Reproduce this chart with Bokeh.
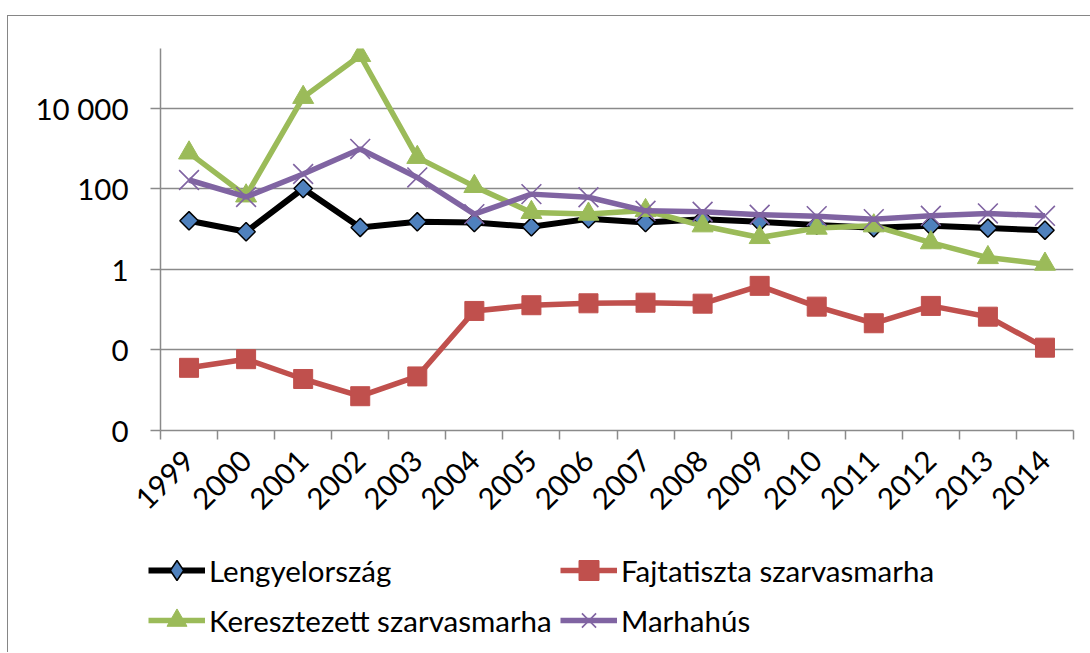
import math
from bokeh.plotting import figure
from bokeh.layouts import column
from bokeh.models import Range1d, FixedTicker, Legend, LegendItem, InlineStyleSheet
from bokeh.embed import file_html
from bokeh.resources import INLINE

years = [str(y) for y in range(1999, 2015)]
lengyel = [16.1, 8.6, 102, 11, 15.2, 14.6, 11.4, 18, 14.6, 17.7, 15.2, 12.7, 10.8, 12.1, 10.6, 9.4]
fajta = [0.0036, 0.0059, 0.0019, 0.00071, 0.0022, 0.093, 0.129, 0.144, 0.149, 0.141,
         0.39, 0.119, 0.046, 0.124, 0.067, 0.0114]
kereszt = [780, 67, 18700, 205000, 605, 115, 26, 23.6, 29, 12.1, 6.2, 10.6, 12.1, 4.6, 1.97, 1.35]
marha = [166, 63, 234, 980, 192, 23.6, 74, 62, 28.5, 27, 22.7, 21, 17.7, 21.4, 24.5, 21.4]
series_names = ["Lengyelország", "Fajtatiszta szarvasmarha", "Keresztezett szarvasmarha", "Marhahús"]
y_ticks = [0.0001, 0.01, 1, 100, 10000]
y_tick_labels = ["0", "0", "1", "100", "10 000"]

FONT = "Lato"
FS = "29.5px"
GRAY = "#8a8a8a"

xs = list(range(len(years)))
series_values = [lengyel, fajta, kereszt, marha]
styles = [
    dict(color="black", lw=6, marker="square", angle=math.pi / 4, size=13,
         leg_marker="diamond", fill="#4F81BD", mline="black", mlw=1.5),
    dict(color="#C0504D", lw=5.5, marker="square", angle=0, size=19,
         leg_marker="square", fill="#C0504D", mline="#C0504D", mlw=1),
    dict(color="#9BBB59", lw=5.5, marker="triangle", angle=0, size=21,
         leg_marker="triangle", fill="#9BBB59", mline="#9BBB59", mlw=1),
    dict(color="#8064A2", lw=5.5, marker="x", angle=0, size=28,
         leg_marker="x", fill="#8064A2", mline="#8064A2", mlw=1.6),
]

p = figure(width=1082, height=524, y_axis_type="log",
           x_range=Range1d(-0.5, len(years) - 0.5),
           y_range=Range1d(0.0001, 10 ** 5.485),
           output_backend="svg", toolbar_location=None,
           min_border_left=152, min_border_right=17, min_border_top=32, min_border_bottom=110)
p.outline_line_color = None
p.background_fill_color = "white"
p.border_fill_color = "white"

# x axis
xa = p.xaxis[0]
xa.ticker = FixedTicker(ticks=xs, minor_ticks=[i - 0.5 for i in range(len(years) + 1)])
xa.major_label_overrides = {i: y for i, y in zip(xs, years)}
xa.major_label_orientation = math.pi / 4
xa.major_tick_out = 0
xa.major_tick_in = 0
xa.minor_tick_out = 9
xa.minor_tick_in = 0
xa.minor_tick_line_color = GRAY
xa.minor_tick_line_width = 1.5
xa.axis_line_color = GRAY
xa.axis_line_width = 1.5
xa.major_label_text_font = FONT
xa.major_label_text_font_size = FS
xa.major_label_text_color = "black"
xa.major_label_standoff = 16

# y axis
ya = p.yaxis[0]
ya.ticker = FixedTicker(ticks=y_ticks)
ya.major_label_overrides = {t: l for t, l in zip(y_ticks, y_tick_labels)}
ya.major_tick_out = 10
ya.major_tick_in = 0
ya.major_tick_line_color = GRAY
ya.major_tick_line_width = 1.5
ya.minor_tick_out = 0
ya.minor_tick_in = 0
ya.axis_line_color = GRAY
ya.axis_line_width = 1.5
ya.major_label_text_font = FONT
ya.major_label_text_font_size = FS
ya.major_label_text_color = "black"
ya.major_label_standoff = 22

p.xgrid.grid_line_color = None
p.ygrid.ticker = FixedTicker(ticks=y_ticks)
p.ygrid.grid_line_color = GRAY
p.ygrid.grid_line_width = 1.5

# legend strip (separate figure, whole area is the frame)
p2 = figure(width=1082, height=112, x_range=Range1d(0, 1), y_range=Range1d(0, 1),
            x_axis_location=None, y_axis_location=None, min_border=0,
            output_backend="svg", toolbar_location=None)
p2.outline_line_color = None
p2.grid.visible = False
if "frame_align" in p2.properties():
    p2.frame_align = False
    x_origin = 8
else:
    x_origin = 160

items = []
for name, vals, st in zip(series_names, series_values, styles):
    for fig, vis in ((p, True), (p2, False)):
        marker = st["marker"] if vis else st["leg_marker"]
        angle = st["angle"] if vis else 0
        lr = fig.line(xs, vals, line_color=st["color"], line_width=st["lw"], visible=vis)
        if marker == "x":
            mr = fig.scatter(xs, vals, marker="x", size=st["size"],
                             line_color=st["mline"], line_width=st["mlw"], visible=vis)
        else:
            mr = fig.scatter(xs, vals, marker=marker, angle=angle, size=st["size"],
                             fill_color=st["fill"], line_color=st["mline"],
                             line_width=st["mlw"], visible=vis)
        if not vis:
            items.append(LegendItem(label=name, renderers=[lr, mr]))

common = dict(border_line_color=None, background_fill_alpha=0, padding=0, margin=0,
              spacing=0, glyph_width=57, glyph_height=50, label_height=30, label_standoff=4,
              label_text_font=FONT, label_text_font_size=FS, label_text_color="black",
              inactive_fill_alpha=0)
leg_left = Legend(items=[items[0], items[2]], location=(148 - x_origin, 7), **common)
leg_right = Legend(items=[items[1], items[3]], location=(560 - x_origin, 7), **common)
p2.add_layout(leg_left, "center")
p2.add_layout(leg_right, "center")

layout = column(p, p2, spacing=0)
layout.stylesheets = [InlineStyleSheet(css=":host { border-top: 1px solid #868686; border-left: 1px solid #868686; margin-top: 15px; margin-left: 7px; }")]

open("out.html", "w").write(file_html(layout, INLINE))
